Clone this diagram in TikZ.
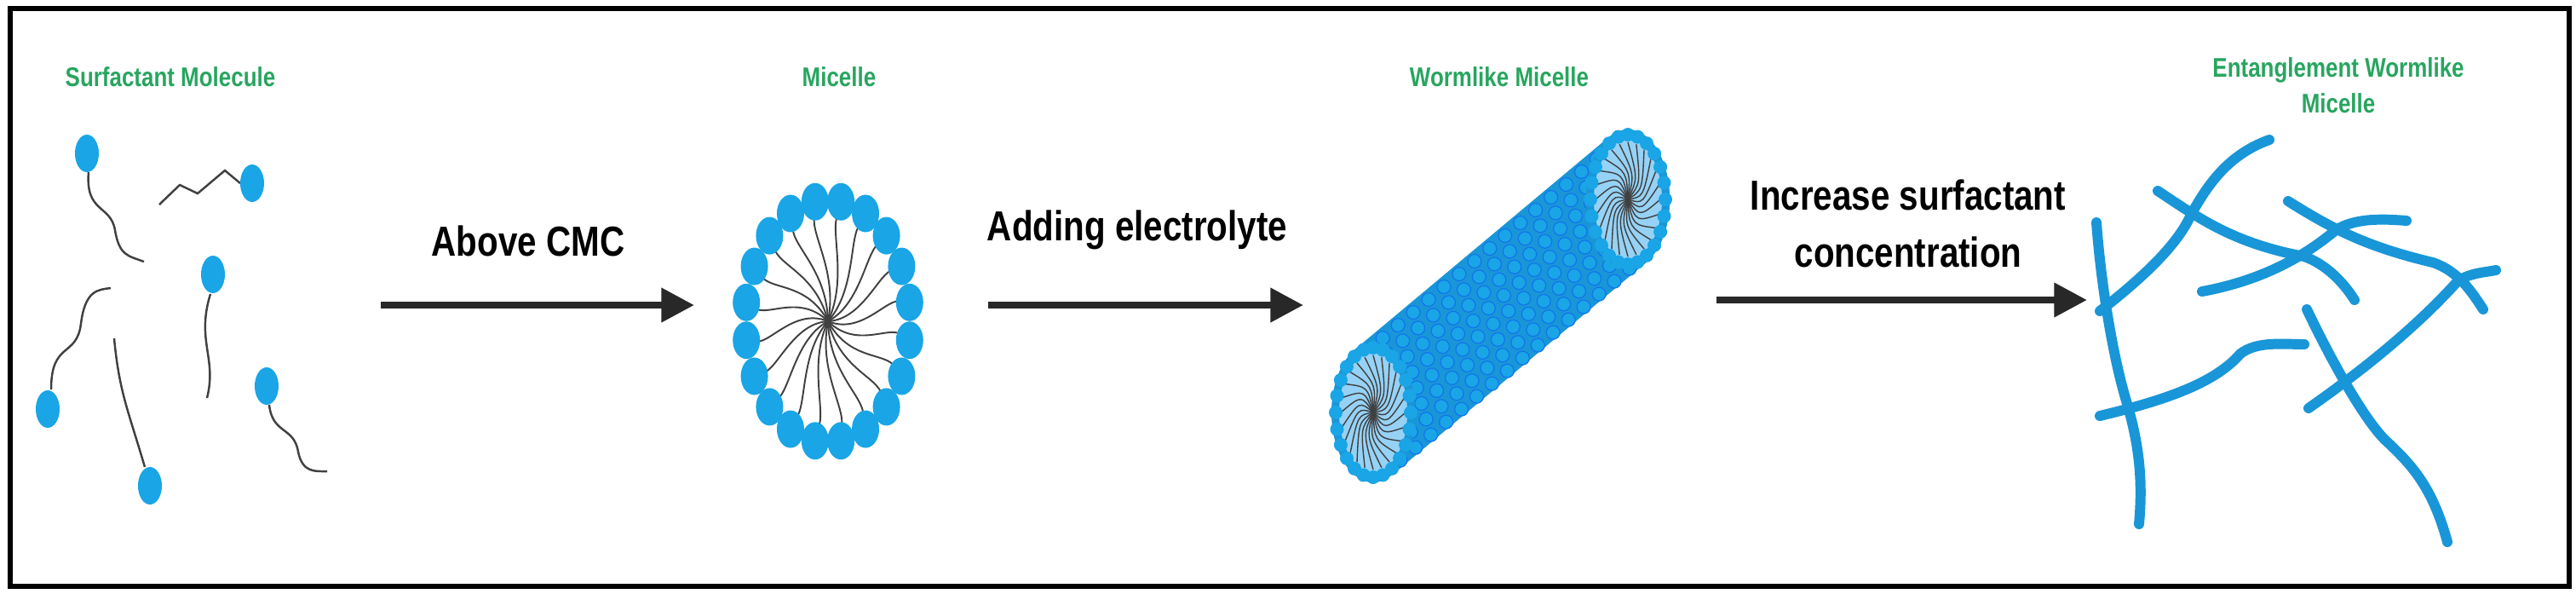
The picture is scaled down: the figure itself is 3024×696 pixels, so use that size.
\documentclass[tikz,border=0pt]{standalone}
\usepackage{fontspec}
\setmainfont{Liberation Sans}
\newfontfamily\narrowf{Liberation Sans}[FakeStretch=0.82]
\usetikzlibrary{calc,arrows.meta}
\definecolor{ttl}{RGB}{40,165,95}
\definecolor{headc}{RGB}{25,165,230}
\definecolor{wormc}{RGB}{25,150,215}
\definecolor{lightc}{RGB}{150,210,245}
\definecolor{arrc}{RGB}{40,40,40}
\begin{document}
\begin{tikzpicture}[x=0.01cm,y=-0.01cm,
  title/.style={text=ttl,font=\narrowf\bfseries\fontsize{9}{12}\selectfont,align=center},
  lbl/.style={text=black,font=\narrowf\bfseries\fontsize{14}{19}\selectfont,align=center},
  flow/.style={draw=arrc,line width=2.4pt,-{Triangle[length=11pt,width=11pt]}},
  tail/.style={draw=black!75,line width=0.7pt},
  worm/.style={draw=wormc,line width=3.4pt,line cap=round}]
\useasboundingbox (0,0) rectangle (3024,696);
\draw[line width=1.6pt] (12,10) rectangle (3016,688);

% titles
\node[title] (t1) at (200,90) {Surfactant Molecule};
\node[title] (t2) at (985,90) {Micelle};
\node[title] (t3) at (1760,90) {Wormlike Micelle};
\node[title] (t4) at (2745,100) {Entanglement Wormlike\\Micelle};

% labels and arrows
\node[lbl] (l1) at (620,283) {Above CMC};
\node[lbl] (l2) at (1335,270) {Adding electrolyte};
\node[lbl] (l3) at (2240,262) {Increase surfactant\\concentration};
\coordinate (a1s) at (447,358); \coordinate (a1e) at (815,358);
\coordinate (a2s) at (1160,358); \coordinate (a2e) at (1530,358);
\coordinate (a3s) at (2015,352); \coordinate (a3e) at (2450,352);
\draw[flow] (a1s) -- (a1e);
\draw[flow] (a2s) -- (a2e);
\draw[flow] (a3s) -- (a3e);

% surfactant molecules
\draw[tail] (104,202) .. controls (100,250) and (130,240) .. (135,270) .. controls (140,300) and (150,300) .. (169,307);
\draw[tail] (187,240) -- (211,217) -- (232,227) -- (264,200) -- (282,215);
\draw[tail] (247,345) .. controls (230,400) and (255,420) .. (243,467);
\draw[tail] (60,457) .. controls (60,400) and (90,420) .. (95,380) .. controls (100,340) and (115,340) .. (130,338);
\draw[tail] (170,548) .. controls (150,480) and (140,460) .. (134,397);
\draw[tail] (316,475) .. controls (320,510) and (345,500) .. (350,530) .. controls (355,555) and (370,553) .. (384,553);
\foreach \p in {(102,180),(296,215),(250,322),(56,480),(176,570),(313,453)}
  \fill[headc] \p ellipse (14 and 22);

% micelle
\coordinate (mc) at (972,377);
\foreach \i in {0,...,19}{
  \pgfmathsetmacro{\a}{\i*18+9}
  \draw[tail,line width=0.55pt] (mc) .. controls ($(mc)+({45*cos(\a+25)},{65*sin(\a+25)})$) and ($(mc)+({80*cos(\a-10)},{115*sin(\a-10)})$) .. ($(mc)+({90*cos(\a)},{130*sin(\a)})$);
  \fill[headc] ($(mc)+({97*cos(\a)},{142*sin(\a)})$) ellipse (16 and 22);
}

% wormlike micelle
\coordinate (wa) at (1612,484);
\coordinate (wb) at (1911,234);
\fill[wormc] (1590,410.5) -- (1889,160.5) -- (1933,307.5) -- (1634,557.5) -- cycle;
\fill[wormc] (wb) ellipse (49 and 82);
\foreach \t in {0.04,0.10,...,1.0}{
  \foreach \s in {-0.85,-0.6,...,0.9}{
    \draw[headc!70!blue,line width=0.35pt,fill=headc] ($(wa)!\t!(wb)+\s*(22,73.5)$) circle (8);
  }
}
\foreach \c in {wa,wb}{
  \fill[wormc] (\c) ellipse (49 and 82);
  \fill[lightc] (\c) ellipse (40 and 70);
  \foreach \i in {0,...,23}{
    \pgfmathsetmacro{\a}{\i*15}
    \draw[black!75,line width=0.4pt] (\c) .. controls ($(\c)+({18*cos(\a+40)},{32*sin(\a+40)})$) .. ($(\c)+({38*cos(\a)},{67*sin(\a)})$);
    \fill[headc] ($(\c)+({44*cos(\a)},{76*sin(\a)})$) circle (8);
  }
}

% entanglement
\draw[worm] (2461,261) .. controls (2466,330) and (2480,420) .. (2498,477) .. controls (2510,520) and (2516,560) .. (2511,615);
\draw[worm] (2465,365) .. controls (2510,330) and (2555,290) .. (2572,252) .. controls (2595,210) and (2620,180) .. (2664,164);
\draw[worm] (2533,224) .. controls (2580,255) and (2620,285) .. (2705,301) .. controls (2730,310) and (2750,330) .. (2764,352);
\draw[worm] (2585,342) .. controls (2650,330) and (2700,305) .. (2742,270) .. controls (2765,255) and (2800,257) .. (2825,259);
\draw[worm] (2686,236) .. controls (2740,270) and (2780,290) .. (2856,308) .. controls (2885,318) and (2900,340) .. (2915,363);
\draw[worm] (2710,479) .. controls (2780,430) and (2840,380) .. (2885,330) .. controls (2900,320) and (2915,320) .. (2930,317);
\draw[worm] (2708,363) .. controls (2740,430) and (2780,500) .. (2804,520) .. controls (2830,545) and (2855,570) .. (2873,636);
\draw[worm] (2465,488) .. controls (2540,470) and (2600,450) .. (2630,415) .. controls (2650,400) and (2680,404) .. (2705,404);
\end{tikzpicture}
\end{document}
